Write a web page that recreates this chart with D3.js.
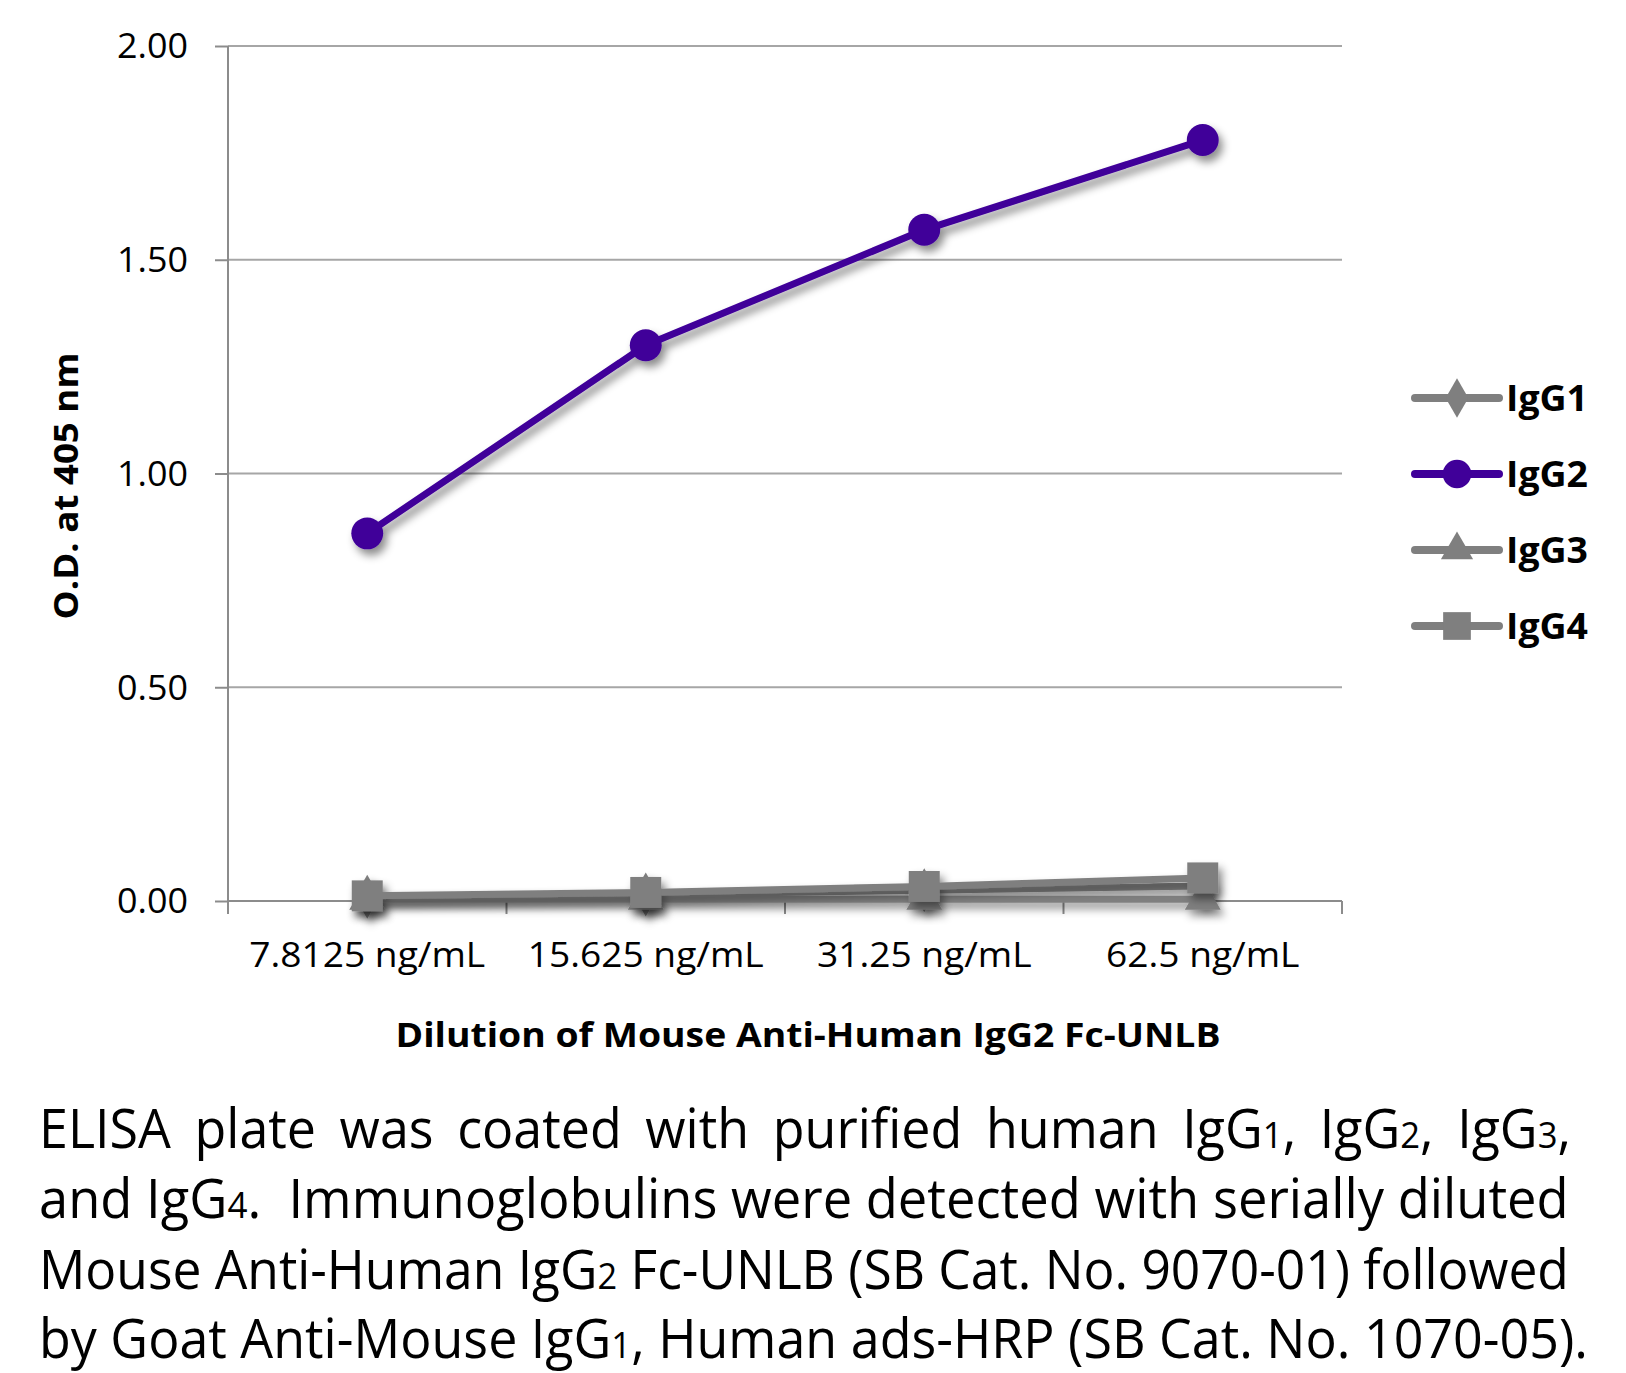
<!DOCTYPE html>
<html><head><meta charset="utf-8">
<script src="https://cdn.jsdelivr.net/npm/d3@7"></script>
<style>html,body{margin:0;padding:0;background:#fff;}svg{display:block;}</style>
</head><body>
<script>
const categories = ["7.8125 ng/mL", "15.625 ng/mL", "31.25 ng/mL", "62.5 ng/mL"];
const seriesNames = ["IgG1", "IgG2", "IgG3", "IgG4"];
const igg1 = [0.010, 0.015, 0.025, 0.035];
const igg2 = [0.86, 1.30, 1.57, 1.78];
const igg3 = [0.004, 0.004, 0.004, 0.004];
const igg4 = [0.012, 0.020, 0.034, 0.054];
const yTicks = [0, 0.5, 1.0, 1.5, 2.0];
const yTitle = "O.D. at 405 nm";
const xTitle = "Dilution of Mouse Anti-Human IgG2 Fc-UNLB";
const seriesColors = ["#7f7f7f", "#400099", "#7f7f7f", "#7f7f7f"];
const seriesSymbols = ["diamond", "circle", "triangle", "square"];
const captionLines = [
  [["ELISA plate was coated with purified human IgG",""],["1","s"],[", IgG",""],["2","s"],[", IgG",""],["3","s"],[",",""]],
  [["and IgG",""],["4","s"],[".  Immunoglobulins were detected with serially diluted",""]],
  [["Mouse Anti-Human IgG",""],["2","s"],[" Fc-UNLB (SB Cat. No. 9070-01) followed",""]],
  [["by Goat Anti-Mouse IgG",""],["1","s"],[", Human ads-HRP (SB Cat. No. 1070-05).",""]]
];

const W = 1626, H = 1373;
const svg = d3.select("body").append("svg").attr("width", W).attr("height", H);
const defs = svg.append("defs");
const f = defs.append("filter").attr("id","sh").attr("x","-50%").attr("y","-50%").attr("width","200%").attr("height","200%");
f.append("feDropShadow").attr("dx",4).attr("dy",6).attr("stdDeviation",4).attr("flood-color","#000").attr("flood-opacity",0.45);

const x = d3.scaleBand().domain(categories).range([228, 1342]).padding(0);
const y = d3.scaleLinear().domain([0, 2]).range([901, 46]);
const font = "'Open Sans', sans-serif";

// gridlines
svg.append("g").selectAll("line").data(yTicks.filter(d => d > 0)).join("line")
  .attr("x1", 228).attr("x2", 1342).attr("y1", d => y(d)).attr("y2", d => y(d))
  .attr("stroke", "#a6a6a6").attr("stroke-width", 2);

// y axis
const yAxis = svg.append("g").attr("transform", "translate(228,0)")
  .call(d3.axisLeft(y).tickValues(yTicks).tickSize(13).tickPadding(27).tickFormat(d3.format(".2f")));
yAxis.select(".domain").attr("stroke", "#8c8c8c").attr("stroke-width", 2).attr("d", "M0,46V909");
yAxis.selectAll(".tick line").attr("stroke", "#8c8c8c").attr("stroke-width", 2);
yAxis.selectAll(".tick text").attr("font-family", font).attr("font-size", 34).attr("fill", "#000")
  .attr("dy", "0.35em").attr("textLength", 71).attr("lengthAdjust", "spacingAndGlyphs");

// x axis
const xAxis = svg.append("g").attr("transform", "translate(0,901)")
  .call(d3.axisBottom(x).tickSize(0).tickPadding(0));
xAxis.select(".domain").attr("stroke", "#8c8c8c").attr("stroke-width", 2).attr("d", "M228,0H1342");
const xt = xAxis.selectAll(".tick text").attr("font-family", font).attr("font-size", 34).attr("fill", "#000")
  .attr("y", 66).attr("dy", 0);
const k0 = 236 / xt.nodes()[0].getComputedTextLength();
xt.each(function() {
  const w = this.getComputedTextLength();
  d3.select(this).attr("textLength", w * k0).attr("lengthAdjust", "spacingAndGlyphs");
});
// boundary ticks
const bounds = categories.map(c => x(c)).concat([x(categories[categories.length-1]) + x.bandwidth()]);
svg.append("g").selectAll("line").data(bounds).join("line")
  .attr("x1", d => d).attr("x2", d => d).attr("y1", 901).attr("y2", 914)
  .attr("stroke", "#8c8c8c").attr("stroke-width", 2);

// titles
svg.append("text").attr("transform", "translate(78,486) rotate(-90)").attr("text-anchor", "middle")
  .attr("font-family", font).attr("font-weight", "bold").attr("font-size", 34)
  .attr("textLength", 267).attr("lengthAdjust", "spacingAndGlyphs").text(yTitle);
svg.append("text").attr("x", 808).attr("y", 1047).attr("text-anchor", "middle")
  .attr("font-family", font).attr("font-weight", "bold").attr("font-size", 34)
  .attr("textLength", 825).attr("lengthAdjust", "spacingAndGlyphs").text(xTitle);

// symbols
function sym(type, size) {
  const m = {diamond: d3.symbolDiamond, circle: d3.symbolCircle, triangle: d3.symbolTriangle, square: d3.symbolSquare};
  return d3.symbol().type(m[type]).size(size)();
}
const symSize = {diamond: 560, circle: 800, triangle: 560, square: 960};

const allSeries = [igg1, igg2, igg3, igg4];
const line = d3.line().x((d, i) => x(categories[i]) + x.bandwidth() / 2).y(d => y(d));
const plot = svg.append("g");
allSeries.forEach((vals, si) => {
  const g = plot.append("g").attr("filter", "url(#sh)");
  g.append("path").attr("d", line(vals)).attr("fill", "none").attr("stroke", seriesColors[si])
    .attr("stroke-width", 7).attr("stroke-linejoin", "round").attr("stroke-linecap", "round");
  g.selectAll("path.m").data(vals).join("path").attr("class", "m")
    .attr("transform", (d, i) => `translate(${x(categories[i]) + x.bandwidth() / 2},${y(d)})`)
    .attr("d", sym(seriesSymbols[si], symSize[seriesSymbols[si]])).attr("fill", seriesColors[si]);
});

// legend
const legY = [398, 474, 550, 626];
const leg = svg.append("g");
seriesNames.forEach((n, i) => {
  leg.append("line").attr("x1", 1415).attr("x2", 1499).attr("y1", legY[i]).attr("y2", legY[i])
    .attr("stroke", seriesColors[i]).attr("stroke-width", 8).attr("stroke-linecap", "round");
  leg.append("path").attr("transform", `translate(1457,${legY[i]})`)
    .attr("d", sym(seriesSymbols[i], symSize[seriesSymbols[i]] * 0.8)).attr("fill", seriesColors[i]);
  leg.append("text").attr("x", 1506).attr("y", legY[i]).attr("dy", "0.36em")
    .attr("font-family", font).attr("font-weight", "bold").attr("font-size", 36).attr("fill", "#000")
    .attr("textLength", 82).attr("lengthAdjust", "spacingAndGlyphs").text(n);
});

// caption: each part a separate text, laid out by measurement, then scaled to fit the justified width
const capBase = [1148, 1218, 1289, 1358];
const capEnd = [1571, 1569, 1569, 1588];
const capX = 39;
function layoutLine(g, parts, ws) {
  g.selectAll("*").remove();
  let cx = 0;
  parts.forEach(p => {
    const t = g.append("text").attr("x", cx).attr("y", 0)
      .attr("font-family", font).attr("font-size", p[1] === "s" ? 36 : 54).attr("fill", "#000")
      .attr("word-spacing", ws).style("white-space", "pre").text(p[0]);
    cx += t.node().getComputedTextLength();
  });
  return cx;
}
const capGroups = captionLines.map((parts, li) => svg.append("g"));
const natural = captionLines.map((parts, li) => layoutLine(capGroups[li], parts, 0));
const scales = natural.map((w, li) => (capEnd[li] - capX) / w);
const baseScale = (scales[1] + scales[2] + scales[3]) / 3;
captionLines.forEach((parts, li) => {
  let sx = scales[li];
  if (li === 0) {
    const spaces = parts.map(p => (p[0].match(/ /g) || []).length).reduce((a, b) => a + b, 0);
    const extra = ((capEnd[0] - capX) / baseScale - natural[0]) / spaces;
    const w = layoutLine(capGroups[0], parts, Math.max(0, extra));
    sx = (capEnd[0] - capX) / w;
  }
  capGroups[li].attr("transform", `translate(${capX},${capBase[li]}) scale(${sx},1)`);
});
</script>
</body></html>
